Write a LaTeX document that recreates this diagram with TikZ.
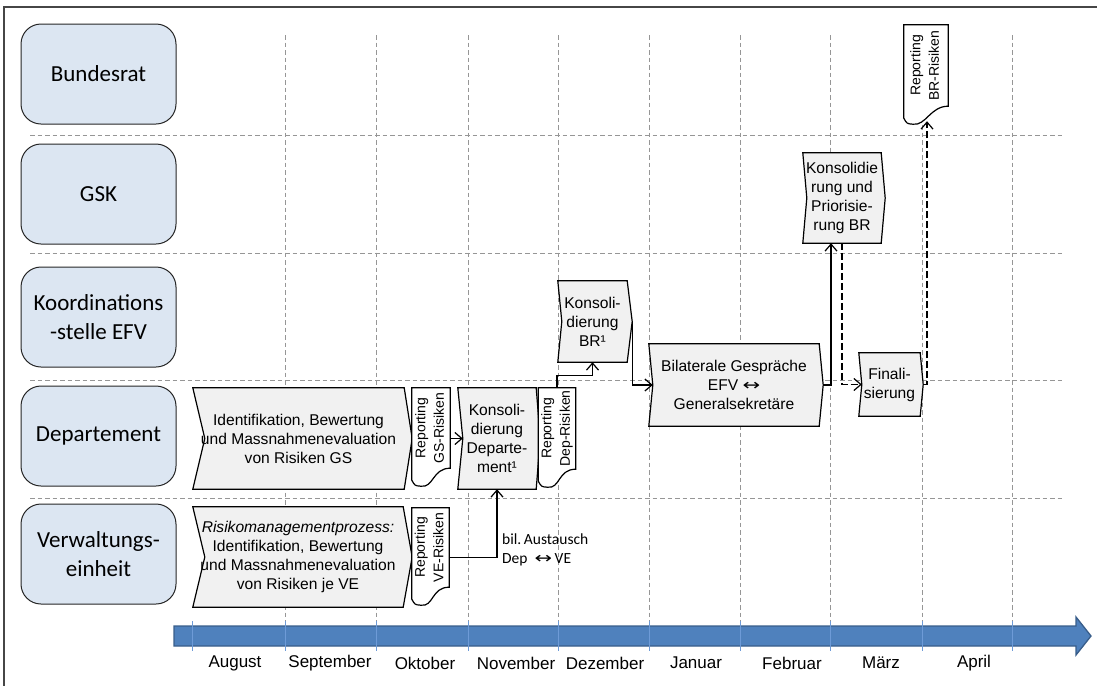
\documentclass[tikz,border=0pt]{standalone}
\usepackage{fontspec}
\usepackage{graphicx}
\setmainfont{Liberation Sans}
\newfontfamily\lanefont{Carlito}
\newfontfamily\symfont{DejaVu Sans}
\usetikzlibrary{arrows.meta,calc,backgrounds}

\definecolor{laneblue}{RGB}{220,230,242}
\definecolor{procgray}{RGB}{241,241,241}
\definecolor{gridgray}{RGB}{150,150,150}
\definecolor{axisfill}{RGB}{79,129,189}
\definecolor{axisdraw}{RGB}{56,93,138}
\definecolor{tickblue}{RGB}{110,155,215}
\definecolor{framegray}{RGB}{70,70,70}

\newcommand\doctxt[2]{\rotatebox{90}{\fontsize{14}{18.5}\selectfont\begin{tabular}{@{}c@{}}#1\\#2\end{tabular}}}
\newcommand\dblarrow{{\symfont\scalebox{1.35}[1]{↔}}}

\tikzset{
  lane/.style={draw=black!85, line width=1pt, fill=laneblue, rounded corners=20pt,
    minimum width=155pt, minimum height=100pt, align=center, inner sep=0pt,
    font=\lanefont\fontsize{23}{29}\selectfont},
  proc/.style={inner sep=0pt, align=center, font=\fontsize{15.6}{19}\selectfont},
  procshape/.style={draw=black, line width=1.2pt, fill=procgray, line join=miter},
  docbox/.style={inner sep=0pt},
  docshape/.style={draw=black, line width=1.2pt, fill=white},
  gridline/.style={draw=gridgray, line width=1pt, dash pattern=on 4.5pt off 3pt},
  conn/.style={draw=black, line width=1.2pt, -{Straight Barb[length=7pt,width=12pt]}},
  dconn/.style={conn, dash pattern=on 7pt off 3pt},
  month/.style={inner sep=0pt, font=\fontsize{17}{20}\selectfont},
  tick/.style={draw=tickblue, line width=1pt},
  axis/.style={fill=axisfill, draw=axisdraw, line width=1.3pt},
}

\begin{document}
\begin{tikzpicture}[x=1pt,y=-1pt]
\useasboundingbox (0,0) rectangle (1097,686);

% outer frame (top and left edges)
\draw[framegray, line width=1.5pt] (1097,7) -- (4,7) -- (4,686);

% swimlane grid
\begin{scope}[on background layer]
  \foreach \y in {135,253,380,498}
    \draw[gridline] (30,\y) -- (1065,\y);
  \foreach \x in {285,376,468,558,649,740,830,922,1012}
    \draw[gridline] (\x,35) -- (\x,622);
\end{scope}

% lane headers
\node[lane] (bundesrat) at (98.5,74)  {Bundesrat};
\node[lane] (gsklane)   at (98.5,194) {GSK};
\node[lane] (efv)       at (98.5,317) {Koordinations\\-stelle EFV};
\node[lane] (dep)       at (98.5,436) {Departement};
\node[lane] (ve)        at (98.5,554) {Verwaltungs-\\einheit};

% process steps
\node[proc, minimum width=211pt, minimum height=101pt] (gsbox) at (298.5,438.5)
  {Identifikation, Bewertung\\und Massnahmenevaluation\\von Risiken GS};
\node[proc, minimum width=210pt, minimum height=100pt] (vebox) at (298,557)
  {\textit{Risikomanagementprozess:}\\Identifikation, Bewertung\\und Massnahmenevaluation\\von Risiken je VE};
\node[proc, minimum width=78pt, minimum height=101pt] (kdep) at (497,438.5)
  {Konsoli-\\dierung\\Departe-\\ment¹};
\node[proc, minimum width=69pt, minimum height=81pt] (kbr) at (592.5,321.5)
  {Konsoli-\\dierung\\BR¹};
\node[proc, minimum width=170pt, minimum height=82pt] (bil) at (734,385)
  {Bilaterale Gespräche\\EFV \dblarrow\\Generalsekretäre};
\node[proc, minimum width=78pt, minimum height=90pt] (gsk) at (842,198)
  {Konsolidie\\rung und\\Priorisie-\\rung BR};
\node[proc, minimum width=61pt, minimum height=63pt] (fin) at (889.5,384.5)
  {Finali-\\sierung};

% reports (document symbols)
\node[docbox, minimum width=38pt, minimum height=80pt] (gsdoc)  at (431,428)   {\doctxt{Reporting}{GS-Risiken}};
\node[docbox, minimum width=36pt, minimum height=81pt] (depdoc) at (557,428.5) {\doctxt{Reporting}{Dep-Risiken}};
\node[docbox, minimum width=37pt, minimum height=79pt] (vedoc)  at (430.5,547.5) {\doctxt{Reporting}{VE-Risiken}};
\node[docbox, minimum width=44pt, minimum height=81pt] (brdoc)  at (926,65.5)  {\doctxt{Reporting}{BR-Risiken}};

% outlines of steps and reports
\begin{scope}[on background layer]
  \foreach \n/\a/\b in {gsbox/12/8, vebox/12/9, kdep/5/4, kbr/4/5, bil/4/4, gsk/4/4, fin/3/3}
    \draw[procshape] (\n.north west) -- (\n.north east) -- ($(\n.east)+(\b,0)$)
      -- (\n.south east) -- (\n.south west) -- ($(\n.west)+(\a,0)$) -- cycle;
  \foreach \n in {gsdoc,depdoc,vedoc,brdoc}
    \draw[docshape] (\n.north west) -- (\n.north east) -- (\n.south east)
      .. controls ($(\n.south east)+(-18,0)$) and ($(\n.south west)+(22,20)$) .. ($(\n.south west)+(9,18)$)
      .. controls ($(\n.south west)+(3,17.5)$) .. ($(\n.south west)+(0,12)$) -- cycle;
\end{scope}

% connector ends
\coordinate (kdep-in) at ($(kdep.west)+(5,0)$);
\coordinate (kbr-out) at ($(kbr.east)+(5,0)$);
\coordinate (bil-in)  at ($(bil.west)+(4,0)$);
\coordinate (bil-out) at ($(bil.east)+(4,0)$);
\coordinate (gsk-in)  at ($(gsk.south)+(-11,0)$);
\coordinate (fin-in)  at ($(fin.west)+(3,0)$);
\coordinate (fin-out) at ($(fin.east)+(3,0)$);
\coordinate (br-in)   at ($(brdoc.south)+(1,15)$);

% flow
\draw[conn] (gsdoc.east |- kdep-in) -- (kdep-in);
\draw[conn] ($(vedoc.east)+(0,10)$) -| (kdep.south);
\draw[conn] (depdoc.north) -- ++(0,-12) -| (kbr.south);
\draw[conn] (kbr-out) |- (bil-in);
\draw[conn] (bil-out) -| (gsk-in);
\draw[dconn] (gsk.south) |- (fin-in);
\draw[dconn] (fin-out) -| (br-in);

\node[anchor=west, align=left, inner sep=0pt, font=\lanefont\fontsize{15.5}{19}\selectfont] (xchg) at (502,550)
  {bil.\,Austausch\\Dep \ \dblarrow\,VE};

% time axis
\draw[axis] (174,626) -- (1076,626) -- (1076,617) -- (1091,636) -- (1076,655) -- (1076,646) -- (174,646) -- cycle;
\foreach \x in {192,285,376,468,558,649,740,830,922,1012}
  \draw[tick] (\x,621) -- (\x,651);

\node[month] (m1) at (235,663) {August};
\node[month] (m2) at (330,663) {September};
\node[month] (m3) at (425,663) {Oktober};
\node[month] (m4) at (516,663) {November};
\node[month] (m5) at (605,663) {Dezember};
\node[month] (m6) at (696,663) {Januar};
\node[month] (m7) at (792,663) {Februar};
\node[month] (m8) at (881,663) {März};
\node[month] (m9) at (974,663) {April};
\end{tikzpicture}
\end{document}
